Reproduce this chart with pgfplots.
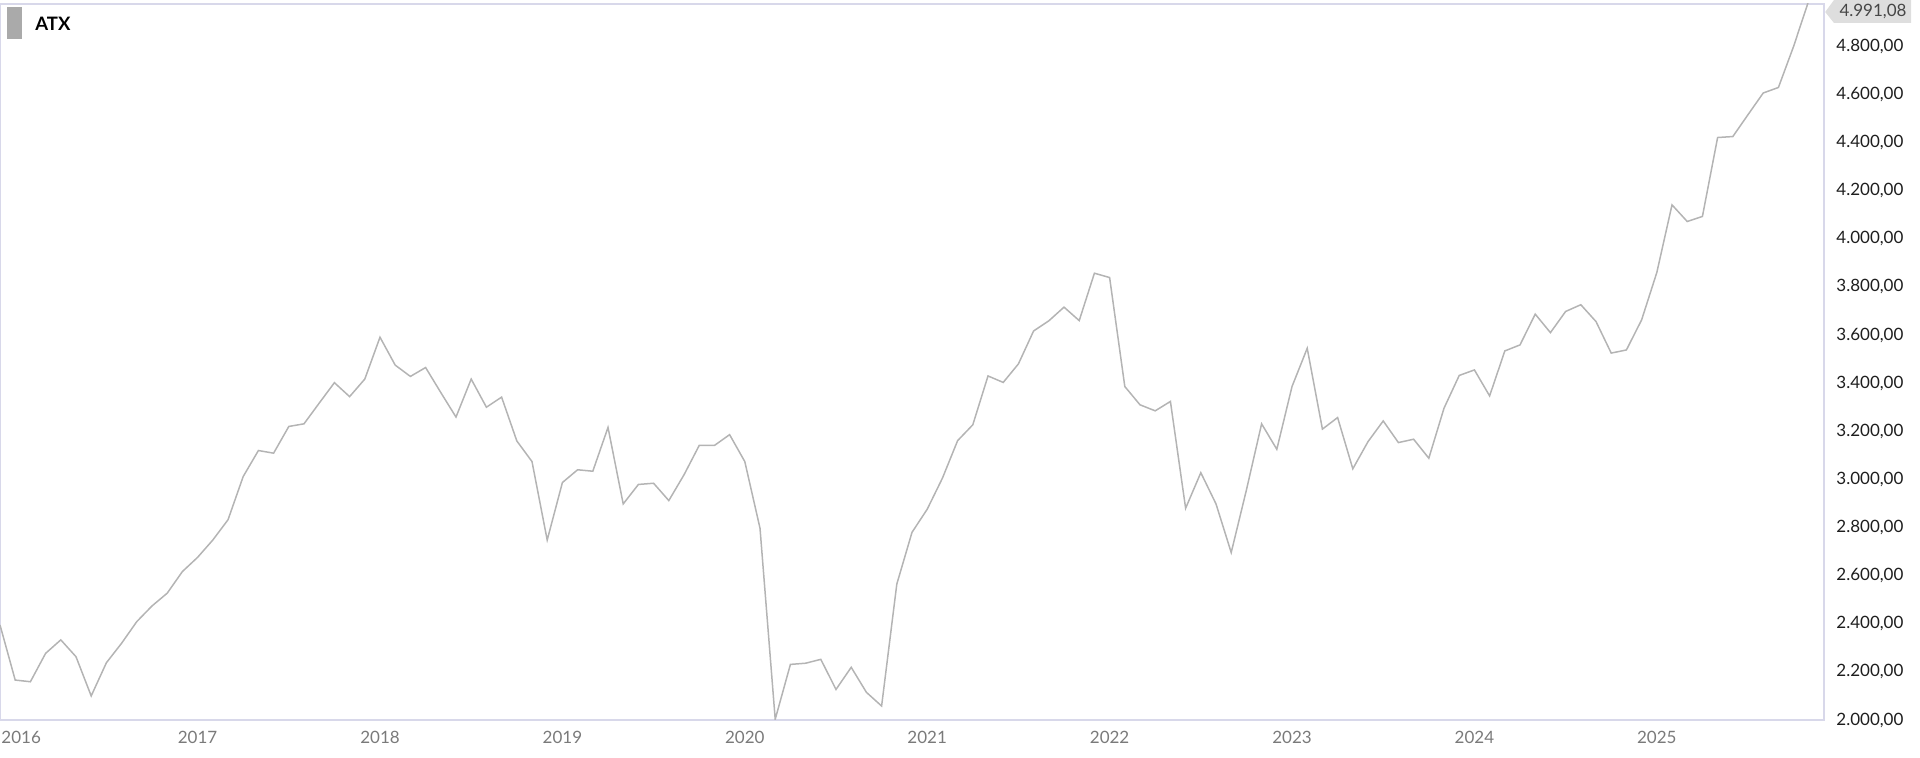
\documentclass[border=0pt]{standalone}
\usepackage{pgfplots}
\pgfplotsset{compat=1.18}
\usepackage{fontspec}
\setmainfont{Lato}

\definecolor{linegray}{RGB}{180,180,180}
\definecolor{framecol}{RGB}{216,216,234}
\definecolor{xlabgray}{RGB}{122,122,122}
\definecolor{ylabcol}{RGB}{30,30,30}
\definecolor{legendgray}{RGB}{170,170,170}
\definecolor{calloutfill}{RGB}{222,222,222}
\definecolor{callouttext}{RGB}{70,70,70}

% ATX monthly closes, month index 0 = Jan 2016
\pgfplotstableread{
m v
-1 2395
0 2166
1 2159
2 2277
3 2333
4 2263
5 2100
6 2238
7 2319
8 2409
9 2474
10 2527
11 2617
12 2676
13 2748
14 2832
15 3012
16 3120
17 3109
18 3220
19 3231
20 3317
21 3402
22 3344
23 3417
24 3591
25 3475
26 3428
27 3465
28 3361
29 3259
30 3417
31 3300
32 3342
33 3160
34 3074
35 2748
36 2987
37 3040
38 3034
39 3216
40 2898
41 2979
42 2984
43 2912
44 3019
45 3141
46 3141
47 3186
48 3074
49 2797
50 2003
51 2231
52 2236
53 2252
54 2127
55 2219
56 2115
57 2058
58 2565
59 2780
60 2876
61 3005
62 3161
63 3227
64 3430
65 3403
66 3480
67 3617
68 3659
69 3716
70 3660
71 3857
72 3839
73 3386
74 3310
75 3285
76 3324
77 2880
78 3028
79 2898
80 2696
81 2956
82 3231
83 3125
84 3386
85 3545
86 3209
87 3257
88 3044
89 3157
90 3243
91 3153
92 3167
93 3088
94 3296
95 3432
96 3455
97 3347
98 3534
99 3559
100 3687
101 3610
102 3698
103 3726
104 3656
105 3525
106 3538
107 3663
108 3860
109 4141
110 4072
111 4093
112 4421
113 4425
114 4516
115 4606
116 4629
117 4800
118 4991.08
}\atx

\begin{document}
\begin{tikzpicture}
\begin{axis}[
    scale only axis,
    width=912pt, height=358pt,
    xmin=-1, xmax=119,
    ymin=2000, ymax=4976,
    axis line style={framecol, line width=1pt},
    major tick length=0pt,
    xtick={0,12,...,108},
    xticklabels={\hspace{6pt}2016,2017,2018,2019,2020,2021,2022,2023,2024,2025},
    xticklabel style={anchor=north, inner sep=0pt, yshift=-5.6pt,
        text=xlabgray, font=\fontsize{8.5}{10}\selectfont},
    ytick={2000,2200,...,4800},
    yticklabel pos=right,
    yticklabel style={anchor=west, inner sep=0pt, xshift=6pt,
        text=ylabcol, font=\fontsize{8.5}{10}\selectfont},
    /pgf/number format/assume math mode=true,
    y tick label style={/pgf/number format/.cd, fixed, fixed zerofill,
        precision=2, use comma, 1000 sep={.}},
    scaled y ticks=false,
]
\addplot[linegray, line width=0.75pt] table[x=m, y=v] {\atx};
\coordinate (tl) at (rel axis cs:0,1);
\coordinate (tr) at (rel axis cs:1,1);
\coordinate (bl) at (rel axis cs:0,0);
\end{axis}

% legend
\fill[legendgray] ([xshift=3.5pt,yshift=-1.5pt]tl) rectangle ([xshift=11pt,yshift=-17.5pt]tl);
\node[anchor=west, inner sep=0pt, font=\bfseries\fontsize{9.25}{11}\selectfont]
    at ([xshift=17.5pt,yshift=-10pt]tl) {ATX};

% last value callout
\fill[calloutfill] ([xshift=0.6pt,yshift=-4pt]tr) -- ([xshift=5pt,yshift=2pt]tr)
    -- ([xshift=43.5pt,yshift=2pt]tr) -- ([xshift=43.5pt,yshift=-9.5pt]tr)
    -- ([xshift=5pt,yshift=-9.5pt]tr) -- cycle;
\node[inner sep=0pt, text=callouttext, font=\fontsize{8.5}{10}\selectfont]
    at ([xshift=24.5pt,yshift=-3.8pt]tr) {4.991,08};

\pgfresetboundingbox
\path[use as bounding box] ([yshift=-19pt]bl) rectangle ([xshift=48pt,yshift=2pt]tr);
\end{tikzpicture}
\end{document}
